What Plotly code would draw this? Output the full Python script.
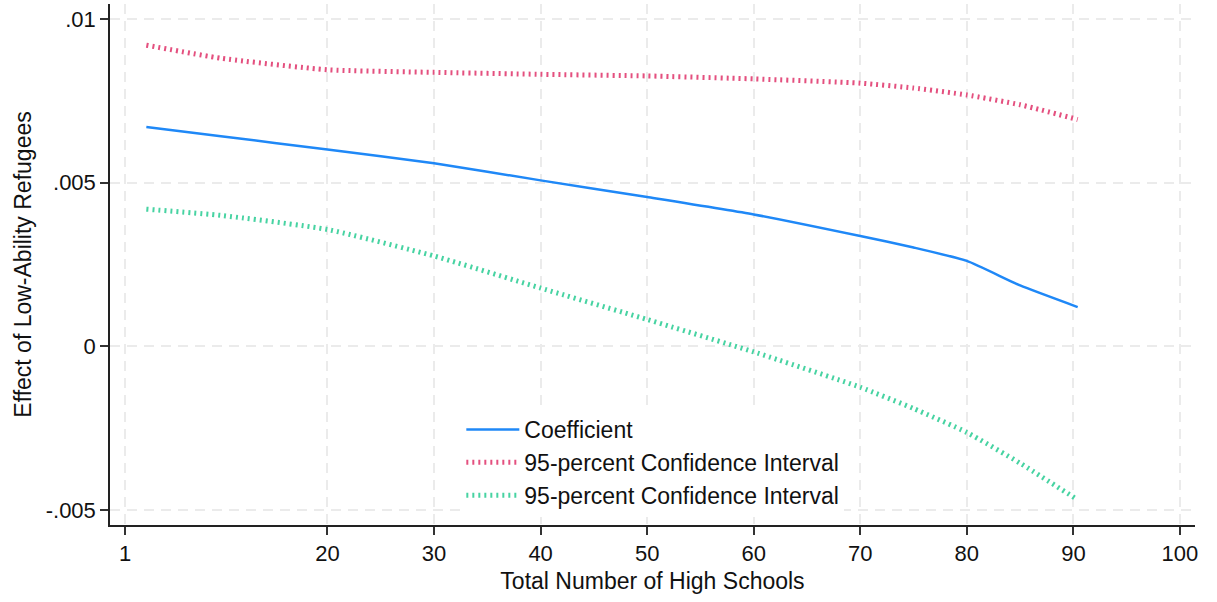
import plotly.graph_objects as go

# Data
x_vals = [3, 10, 20, 30, 40, 50, 60, 70, 75, 80, 85, 90.4]
coef = [0.00670, 0.00642, 0.00601, 0.00559, 0.00507, 0.00456, 0.00403, 0.00337, 0.00302, 0.00261, 0.00186, 0.00120]
ci_upper = [0.00920, 0.00880, 0.00845, 0.00837, 0.00831, 0.00826, 0.00817, 0.00804, 0.00789, 0.00768, 0.00738, 0.00693]
ci_lower = [0.00419, 0.00400, 0.00357, 0.00276, 0.00178, 0.00082, -0.00017, -0.00125, -0.00190, -0.00263, -0.00357, -0.00469]

x_ticks = [1, 20, 30, 40, 50, 60, 70, 80, 90, 100]
x_ticklabels = ["1", "20", "30", "40", "50", "60", "70", "80", "90", "100"]
y_ticks = [-0.005, 0, 0.005, 0.01]
y_ticklabels = ["-.005", "0", ".005", ".01"]

series_names = ["Coefficient", "95-percent Confidence Interval", "95-percent Confidence Interval"]

FONT = "Liberation Sans, Arial, sans-serif"
BLUE = "#1f88f7"
PINK = "#e4507f"
TEAL = "#47d3a2"

fig = go.Figure()
fig.add_trace(go.Scatter(x=x_vals, y=coef, mode="lines", name=series_names[0],
                         line=dict(color=BLUE, width=2.5, shape="spline", smoothing=0.5)))
fig.add_trace(go.Scatter(x=x_vals, y=ci_upper, mode="lines", name=series_names[1],
                         line=dict(color=PINK, width=5, dash="2px,4px", shape="spline", smoothing=0.5)))
fig.add_trace(go.Scatter(x=x_vals, y=ci_lower, mode="lines", name=series_names[2],
                         line=dict(color=TEAL, width=5, dash="2px,4px", shape="spline", smoothing=0.5)))

grid = dict(showgrid=True, gridcolor="#ebebeb", gridwidth=1.5, griddash="10px,7px")

fig.update_layout(
    width=1217, height=602,
    margin=dict(l=110, r=22, t=4, b=77),
    paper_bgcolor="white", plot_bgcolor="white",
    font=dict(family=FONT, color="#111", size=22),
    showlegend=True,
    legend=dict(x=0.3238, y=0.2246, xanchor="left", yanchor="top",
                bgcolor="white", borderwidth=0, itemwidth=53,
                font=dict(size=23, family=FONT)),
    xaxis=dict(range=[-0.41, 101.41], tickvals=x_ticks, ticktext=x_ticklabels,
               ticks="outside", ticklen=8, tickwidth=1.5, tickcolor="#333",
               showline=True, linecolor="#222", linewidth=1.5, zeroline=False,
               tickfont=dict(size=22), automargin=False,
               title=dict(text="Total Number of High Schools", font=dict(size=23), standoff=8),
               **grid),
    yaxis=dict(range=[-0.005458, 0.010458], tickvals=y_ticks, ticktext=y_ticklabels,
               ticks="outside", ticklen=8, tickwidth=1.5, tickcolor="#333",
               showline=True, linecolor="#222", linewidth=1.5, zeroline=False,
               tickfont=dict(size=22), automargin=False,
               title=dict(text="Effect of Low-Ability Refugees", font=dict(size=23), standoff=8),
               **grid),
)

fig.write_html("out.html", config={"displayModeBar": False},
               post_script="document.body.style.margin='0px';")
